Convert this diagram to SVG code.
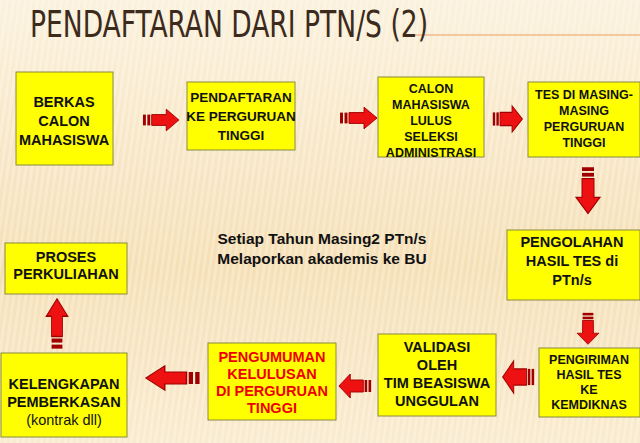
<svg xmlns="http://www.w3.org/2000/svg" width="640" height="443" viewBox="0 0 640 443">
<defs>
<linearGradient id="bg" x1="0" y1="0" x2="0" y2="1"><stop offset="0" stop-color="#fbf1dc"/><stop offset="0.6" stop-color="#f5dfb5"/><stop offset="1" stop-color="#f9ebcf"/></linearGradient>
<pattern id="st" width="6" height="20" patternUnits="userSpaceOnUse" patternTransform="skewX(-8)"><rect width="3" height="20" fill="#ffffff" opacity="0.25"/></pattern>
<g id="ar"><path d="M10,-6 H25 V-12 L38,0 L25,12 V6 H10 Z" fill="#ee1111" stroke="#a00000" stroke-width="1"/><rect x="1" y="-6" width="3" height="12" fill="#a00000"/><rect x="5.5" y="-6" width="3" height="12" fill="#a00000"/></g>
</defs>
<style>
.b{fill:#ffff00;stroke:#8a8a40;stroke-width:1}
.t{font-family:"Liberation Sans",Arial,sans-serif;font-weight:bold;font-size:14.5px;fill:#111;text-anchor:middle}
.s{font-size:12.5px}
.m{font-size:13.5px}
</style>
<rect width="640" height="443" fill="url(#bg)"/>
<rect width="640" height="443" fill="url(#st)"/>
<line x1="410" y1="35" x2="640" y2="35" stroke="#e8a060" stroke-width="1.2"/>
<text x="30" y="37" font-family="DejaVu Sans Condensed,DejaVu Sans,sans-serif" font-size="37" fill="#3c2a1c" textLength="398" lengthAdjust="spacingAndGlyphs">PENDAFTARAN DARI PTN/S (2)</text>
<g id="n1"><rect class="b" x="16" y="72" width="97" height="93"/><text class="t" x="64" y="107">BERKAS</text><text class="t" x="64" y="126">CALON</text><text class="t" x="64" y="145">MAHASISWA</text></g>
<g id="n2"><rect class="b" x="187" y="82" width="108" height="68"/><text class="t m" x="241" y="102">PENDAFTARAN</text><text class="t m" x="241" y="121">KE PERGURUAN</text><text class="t m" x="241" y="140">TINGGI</text></g>
<g id="n3"><rect class="b" x="378" y="77" width="106" height="80"/><text class="t s" x="431" y="93">CALON</text><text class="t s" x="431" y="109">MAHASISWA</text><text class="t s" x="431" y="125">LULUS</text><text class="t s" x="431" y="141">SELEKSI</text><text class="t s" x="431" y="157">ADMINISTRASI</text></g>
<g id="n4"><rect class="b" x="528" y="82" width="112" height="75"/><text class="t s" x="584" y="99">TES DI MASING-</text><text class="t s" x="584" y="115">MASING</text><text class="t s" x="584" y="131">PERGURUAN</text><text class="t s" x="584" y="147">TINGGI</text></g>
<g id="n5"><rect class="b" x="507" y="230" width="133" height="70"/><text class="t" x="572" y="247">PENGOLAHAN</text><text class="t" x="572" y="266">HASIL TES di</text><text class="t" x="572" y="285">PTn/s</text></g>
<g id="n6"><rect class="b" x="539" y="348" width="101" height="69"/><text class="t s" x="589" y="364">PENGIRIMAN</text><text class="t s" x="589" y="379">HASIL TES</text><text class="t s" x="589" y="394">KE</text><text class="t s" x="589" y="409">KEMDIKNAS</text></g>
<g id="n7"><rect class="b" x="378" y="334" width="118" height="82"/><text class="t" x="437" y="352">VALIDASI</text><text class="t" x="437" y="370">OLEH</text><text class="t" x="437" y="388">TIM BEASISWA</text><text class="t" x="437" y="406">UNGGULAN</text></g>
<g id="n8"><rect class="b" x="208" y="343" width="128" height="77"/><text class="t" style="fill:#ee0000" x="272" y="362">PENGUMUMAN</text><text class="t" style="fill:#ee0000" x="272" y="379">KELULUSAN</text><text class="t" style="fill:#ee0000" x="272" y="396">DI PERGURUAN</text><text class="t" style="fill:#ee0000" x="272" y="413">TINGGI</text></g>
<g id="n9"><rect class="b" x="1" y="353" width="126" height="84"/><text class="t" x="64" y="389">KELENGKAPAN</text><text class="t" x="64" y="407">PEMBERKASAN</text><text class="t" style="font-weight:normal" x="64" y="425">(kontrak dll)</text></g>
<g id="n10"><rect class="b" x="5" y="243" width="122" height="51"/><text class="t" x="66" y="262">PROSES</text><text class="t" x="66" y="279">PERKULIAHAN</text></g>
<text class="t" x="322" y="244" style="font-size:15.5px">Setiap Tahun Masing2  PTn/s</text>
<text class="t" x="322" y="264" style="font-size:15.5px">Melaporkan akademis ke BU</text>
<g id="connectors">
<use href="#ar" transform="translate(142,120) scale(0.97,0.9)"/>
<use href="#ar" transform="translate(339,118) scale(1,0.9)"/>
<use href="#ar" transform="translate(492,119) scale(0.8,1.1)"/>
<use href="#ar" transform="translate(588,166) rotate(90) scale(1.25,1)"/>
<use href="#ar" transform="translate(588,312) rotate(90) scale(0.85,0.9)"/>
<use href="#ar" transform="translate(535,377) rotate(180) scale(0.85,1.35)"/>
<use href="#ar" transform="translate(372,386) rotate(180) scale(0.87,1)"/>
<use href="#ar" transform="translate(201,378) rotate(180) scale(1.45,1)"/>
<use href="#ar" transform="translate(57,350) rotate(-90) scale(1.35,0.9)"/>
</g>
</svg>
